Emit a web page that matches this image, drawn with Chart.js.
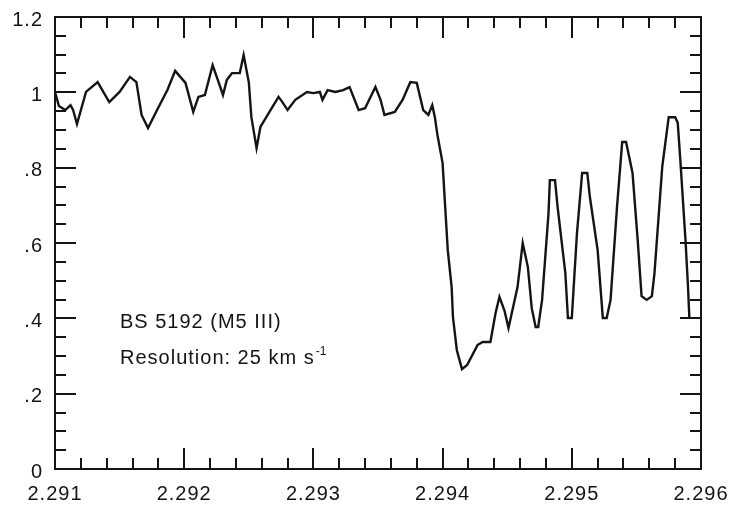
<!DOCTYPE html>
<html>
<head>
<meta charset="utf-8">
<script src="https://cdn.jsdelivr.net/npm/chart.js@4.4.0/dist/chart.umd.min.js"></script>
<style>
  html, body { margin: 0; padding: 0; background: #fff; }
  #wrap { width: 731px; height: 508px; }
</style>
</head>
<body>
<div id="wrap"><canvas id="spectrum" width="731" height="508"></canvas></div>
<script>
// ===============================
// DATA
// ===============================

// wavelength (micron) and relative flux
const wavelengths = [
  2.29100, 2.29103, 2.29108, 2.29112, 2.29114, 2.29117, 2.29124, 2.29133, 2.29142, 2.29150,
  2.29158, 2.29163, 2.29167, 2.29172, 2.29179, 2.29187, 2.29193, 2.29201, 2.29207, 2.29211,
  2.29216, 2.29222, 2.29226, 2.29230, 2.29233, 2.29237, 2.29243, 2.29246, 2.29250, 2.29252,
  2.29256, 2.29259, 2.29266, 2.29273, 2.29276, 2.29280, 2.29286, 2.29295, 2.29300, 2.29305,
  2.29307, 2.29311, 2.29317, 2.29323, 2.29328, 2.29335, 2.29340, 2.29348, 2.29352, 2.29355,
  2.29363, 2.29369, 2.29375, 2.29380, 2.29385, 2.29389, 2.29392, 2.29394, 2.29396, 2.29400,
  2.29402, 2.29404, 2.29407, 2.29408, 2.29411, 2.29415, 2.29419, 2.29427, 2.29431, 2.29437,
  2.29441, 2.29444, 2.29448, 2.29451, 2.29458, 2.29462, 2.29466, 2.29469, 2.29472, 2.29474,
  2.29477, 2.29482, 2.29483, 2.29487, 2.29489, 2.29495, 2.29497, 2.29500, 2.29504, 2.29508,
  2.29512, 2.29514, 2.29520, 2.29524, 2.29527, 2.29530, 2.29535, 2.29539, 2.29542, 2.29547,
  2.29551, 2.29554, 2.29558, 2.29562, 2.29564, 2.29570, 2.29575, 2.29580, 2.29582, 2.29584,
  2.29588, 2.29590, 2.29591
];

const flux = [
  1.001, 0.964, 0.953, 0.966, 0.953, 0.916, 1.001, 1.027, 0.974, 1.001,
  1.041, 1.027, 0.940, 0.905, 0.953, 1.006, 1.057, 1.025, 0.948, 0.988,
  0.993, 1.072, 1.033, 0.993, 1.033, 1.051, 1.051, 1.099, 1.027, 0.934,
  0.852, 0.908, 0.948, 0.988, 0.974, 0.953, 0.980, 1.001, 0.998, 1.001,
  0.980, 1.006, 1.001, 1.006, 1.014, 0.953, 0.958, 1.014, 0.980, 0.940,
  0.948, 0.980, 1.027, 1.025, 0.953, 0.940, 0.966, 0.934, 0.887, 0.812,
  0.696, 0.581, 0.483, 0.404, 0.316, 0.265, 0.276, 0.329, 0.337, 0.337,
  0.414, 0.457, 0.419, 0.374, 0.483, 0.600, 0.536, 0.427, 0.377, 0.377,
  0.449, 0.680, 0.767, 0.767, 0.696, 0.520, 0.401, 0.401, 0.626, 0.786,
  0.786, 0.722, 0.581, 0.401, 0.401, 0.449, 0.696, 0.868, 0.868, 0.786,
  0.608, 0.459, 0.449, 0.459, 0.520, 0.802, 0.934, 0.934, 0.919, 0.820,
  0.608, 0.480, 0.401
];

const xTickValues = [2.291, 2.292, 2.293, 2.294, 2.295, 2.296];
const xTickLabels = ["2.291", "2.292", "2.293", "2.294", "2.295", "2.296"];
const yTickValues = [0, 0.2, 0.4, 0.6, 0.8, 1.0, 1.2];
const yTickLabels = ["0", ".2", ".4", ".6", ".8", "1", "1.2"];

const noteStar = "BS 5192 (M5 III)";
const noteRes = "Resolution: 25 km s";
const noteResSup = "-1";

// ===============================
// STYLE
// ===============================

const ink = "#141414";
const fontFamily = "'Liberation Sans', Arial, Helvetica, sans-serif";
const xMinorStep = 0.0002;
const yMinorStep = 0.05;

// ===============================
// PLUGINS
// ===============================

// scanned lettering is a little wider than Arial
const spacing = {
  id: "spacing",
  beforeDraw(chart) {
    chart.ctx.letterSpacing = "1px";
  }
};

// box frame with inward ticks on all four sides
const frameTicks = {
  id: "frameTicks",
  afterDatasetsDraw(chart) {
    const { ctx, chartArea: a, scales: { x, y } } = chart;
    ctx.save();
    ctx.strokeStyle = ink;
    ctx.lineWidth = 2;
    ctx.strokeRect(a.left, a.top, a.right - a.left, a.bottom - a.top);
    ctx.beginPath();

    const nx = Math.round((x.max - x.min) / xMinorStep);
    for (let i = 1; i < nx; i++) {
      const px = Math.round(x.getPixelForValue(x.min + i * xMinorStep));
      const len = i % 5 === 0 ? 21 : 11;
      ctx.moveTo(px, a.bottom);
      ctx.lineTo(px, a.bottom - len);
      ctx.moveTo(px, a.top);
      ctx.lineTo(px, a.top + len);
    }

    const ny = Math.round((y.max - y.min) / yMinorStep);
    for (let i = 1; i < ny; i++) {
      const py = Math.round(y.getPixelForValue(y.min + i * yMinorStep));
      const len = i % 4 === 0 ? 21 : 11;
      ctx.moveTo(a.left, py);
      ctx.lineTo(a.left + len, py);
      ctx.moveTo(a.right, py);
      ctx.lineTo(a.right - len, py);
    }

    ctx.stroke();
    ctx.restore();
  }
};

const notes = {
  id: "notes",
  afterDraw(chart) {
    const { ctx, chartArea: a } = chart;
    ctx.save();
    ctx.fillStyle = ink;
    ctx.letterSpacing = "1px";
    ctx.textBaseline = "alphabetic";
    ctx.font = `20px ${fontFamily}`;
    const left = a.left + 65;
    ctx.fillText(noteStar, left, 328);
    ctx.fillText(noteRes, left, 364);
    const w = ctx.measureText(noteRes).width;
    ctx.letterSpacing = "0px";
    ctx.font = `12px ${fontFamily}`;
    ctx.fillText(noteResSup, left + w + 1, 355);
    ctx.restore();
  }
};

// keep the plot box where the original has it: labels may hang over the edges
function noOverhang(s) {
  s.paddingTop = 0;
  s.paddingBottom = 0;
  s.paddingLeft = 0;
  s.paddingRight = 0;
}

// ===============================
// CHART
// ===============================

const points = wavelengths.map((w, i) => ({ x: w, y: flux[i] }));

new Chart(document.getElementById("spectrum"), {
  type: "line",
  data: {
    datasets: [{
      data: points,
      borderColor: ink,
      borderWidth: 2.4,
      pointRadius: 0,
      tension: 0,
      fill: false
    }]
  },
  options: {
    responsive: false,
    animation: false,
    devicePixelRatio: 1,
    layout: { padding: { top: 17, right: 30, left: 0, bottom: 0 } },
    plugins: { legend: { display: false }, tooltip: { enabled: false } },
    scales: {
      x: {
        type: "linear",
        min: 2.291,
        max: 2.296,
        afterBuildTicks: s => { s.ticks = xTickValues.map(v => ({ value: v })); },
        afterFit: s => { s.height = 39; noOverhang(s); },
        ticks: {
          callback: (v, i) => xTickLabels[i],
          color: ink,
          font: { family: fontFamily, size: 20 },
          padding: 13,
          maxRotation: 0,
          autoSkip: false
        },
        grid: { display: false, drawTicks: false },
        border: { display: false }
      },
      y: {
        type: "linear",
        min: 0,
        max: 1.2,
        afterBuildTicks: s => { s.ticks = yTickValues.map(v => ({ value: v })); },
        afterFit: s => { s.width = 55; noOverhang(s); },
        ticks: {
          callback: (v, i) => yTickLabels[i],
          color: ink,
          font: { family: fontFamily, size: 20 },
          padding: 12,
          labelOffset: 3,
          autoSkip: false
        },
        grid: { display: false, drawTicks: false },
        border: { display: false }
      }
    }
  },
  plugins: [spacing, frameTicks, notes]
});
</script>
</body>
</html>
